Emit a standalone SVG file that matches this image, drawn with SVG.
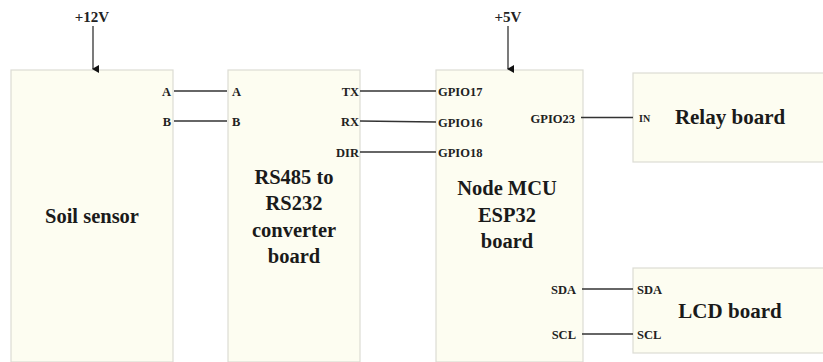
<svg xmlns="http://www.w3.org/2000/svg" width="823" height="362" viewBox="0 0 823 362">
<defs>
<marker id="arr" markerWidth="8" markerHeight="8" refX="4" refY="6" orient="auto-start-reverse" markerUnits="userSpaceOnUse" viewBox="0 0 8 8">
<path d="M0,0 L8,0 L4,7 Z" fill="#111"/>
</marker>
<style>
.box{fill:#fdfdf1;stroke:#dcdcd4;stroke-width:1.2}
.pin{font-family:"Liberation Serif",serif;font-weight:bold;font-size:12.5px;fill:#222}
.title{font-family:"Liberation Serif",serif;font-weight:bold;font-size:20.5px;fill:#1a1a1a;text-anchor:middle}
.pwr{font-family:"Liberation Serif",serif;font-weight:bold;font-size:15px;fill:#222;text-anchor:middle}
.wire{stroke:#333;stroke-width:1.3;fill:none}
.end{text-anchor:end}
</style>
</defs>
<rect width="823" height="362" fill="#fff"/>

<g id="soil">
<rect class="box" x="11" y="70" width="162" height="292"/>
<text class="title" x="92" y="223">Soil sensor</text>
<text class="pin end" x="171" y="95.5">A</text>
<text class="pin end" x="171" y="125.5">B</text>
</g>

<g id="rs485">
<rect class="box" x="228" y="70" width="132" height="292"/>
<text class="pin" x="232" y="95.5">A</text>
<text class="pin" x="232" y="125.5">B</text>
<text class="pin end" x="359" y="95.5">TX</text>
<text class="pin end" x="359" y="125.5">RX</text>
<text class="pin end" x="359" y="157">DIR</text>
<text class="title" x="294" y="183.5">RS485 to</text>
<text class="title" x="294" y="210">RS232</text>
<text class="title" x="294" y="236.5">converter</text>
<text class="title" x="294" y="263">board</text>
</g>

<g id="esp32">
<rect class="box" x="436" y="70" width="147" height="292"/>
<text class="pin" x="438" y="96">GPIO17</text>
<text class="pin" x="438" y="126.5">GPIO16</text>
<text class="pin" x="438" y="157">GPIO18</text>
<text class="pin end" x="575" y="123">GPIO23</text>
<text class="pin end" x="576" y="293.5">SDA</text>
<text class="pin end" x="576" y="339">SCL</text>
<text class="title" x="507" y="195">Node MCU</text>
<text class="title" x="507" y="222">ESP32</text>
<text class="title" x="507" y="248">board</text>
</g>

<g id="relay">
<rect class="box" x="633" y="73" width="200" height="89"/>
<text class="pin" x="639" y="121.5" style="font-size:10px">IN</text>
<text class="title" x="730" y="124" style="font-size:21px">Relay board</text>
</g>

<g id="lcd">
<rect class="box" x="633" y="268" width="200" height="85"/>
<text class="pin" x="637" y="293.5">SDA</text>
<text class="pin" x="637" y="339">SCL</text>
<text class="title" x="730" y="318" style="font-size:21px">LCD board</text>
</g>

<g id="power">
<text class="pwr" x="92" y="22">+12V</text>
<text class="pwr" x="508" y="22">+5V</text>
</g>

<g id="connectors">
<line class="wire" x1="93" y1="26" x2="93" y2="69" marker-end="url(#arr)"/>
<line class="wire" x1="508" y1="26" x2="508" y2="69" marker-end="url(#arr)"/>
<line class="wire" x1="174" y1="91" x2="227" y2="91"/>
<line class="wire" x1="174" y1="121" x2="227" y2="121"/>
<line class="wire" x1="360" y1="91" x2="436" y2="91"/>
<line class="wire" x1="360" y1="121" x2="436" y2="122"/>
<line class="wire" x1="360" y1="152" x2="436" y2="152"/>
<line class="wire" x1="581" y1="117.5" x2="633" y2="117.5"/>
<line class="wire" x1="582" y1="289" x2="633" y2="289"/>
<line class="wire" x1="582" y1="334" x2="633" y2="334"/>
</g>
</svg>
